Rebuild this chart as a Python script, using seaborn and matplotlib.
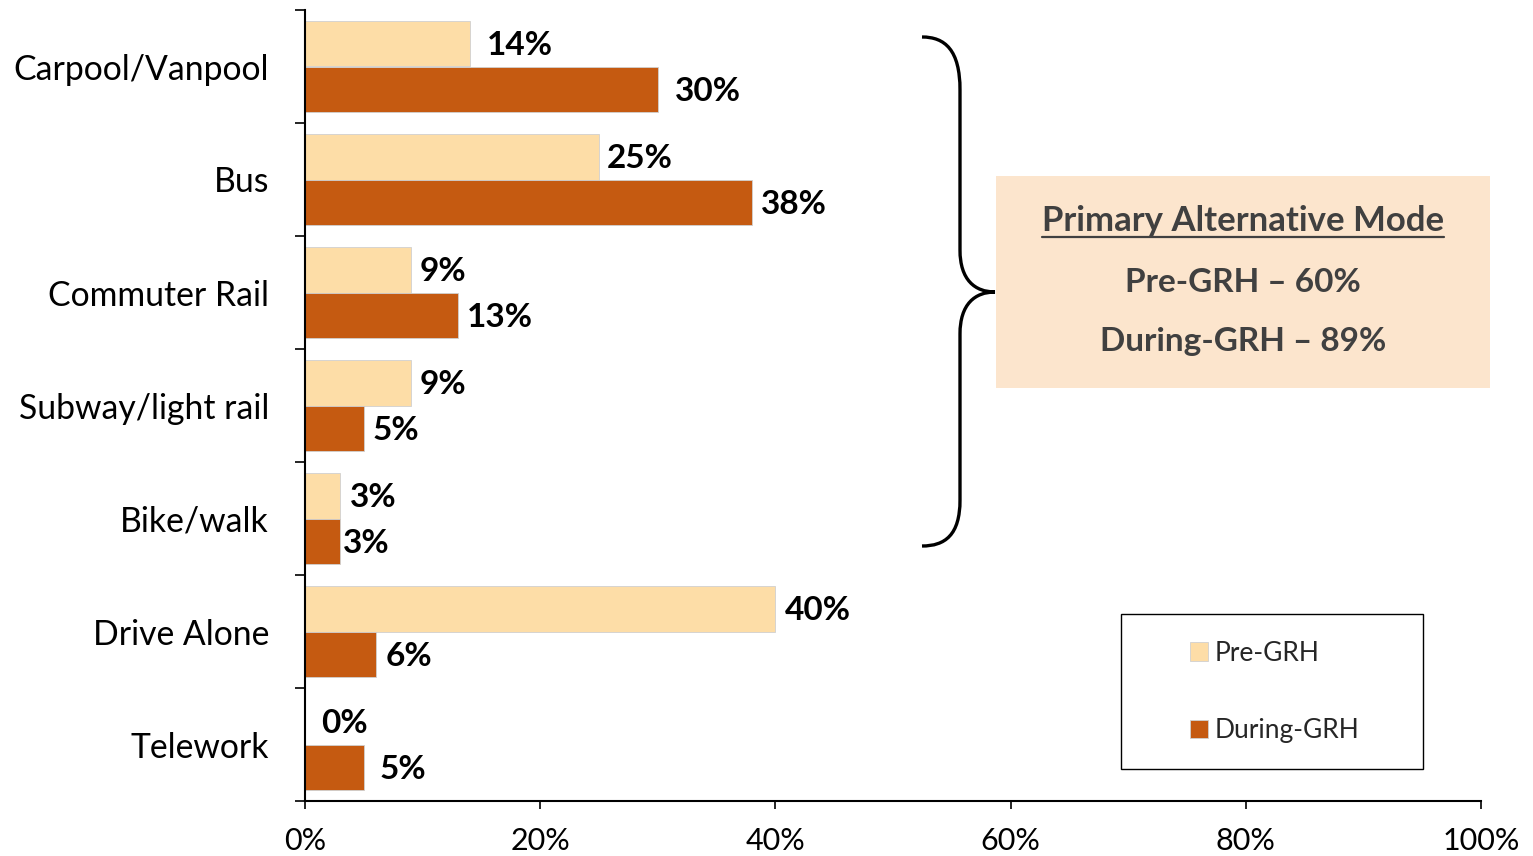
import matplotlib
matplotlib.use("Agg")
import matplotlib.pyplot as plt
import matplotlib.patches as mpatches
from matplotlib.path import Path
from matplotlib.lines import Line2D
import seaborn as sns
import pandas as pd

# ---- data ----
modes = ["Carpool/Vanpool", "Bus", "Commuter Rail", "Subway/light rail",
         "Bike/walk", "Drive Alone", "Telework"]
pre_grh = [14, 25, 9, 9, 3, 40, 0]
during_grh = [30, 38, 13, 5, 3, 6, 5]
series_names = ["Pre-GRH", "During-GRH"]
x_ticks = [0, 20, 40, 60, 80, 100]
box_title = "Primary Alternative Mode"
box_lines = ["Pre-GRH \u2013 60%", "During-GRH \u2013 89%"]

# label offsets (pixels) from bar end
pre_pad_px = [17, 8, 9, 9, 10, 9, 16]
during_pad_px = [17, 9, 9, 9, 3, 10, 16]

PRE_COLOR = "#FDDDA7"
DURING_COLOR = "#C55A11"

sns.set_theme(style="ticks")
plt.rcParams["font.family"] = ["Lato", "DejaVu Sans"]

W, H = 1533, 856
fig = plt.figure(figsize=(W / 100, H / 100), dpi=100)
ax = fig.add_axes([305 / W, 1 - 801 / H, (1481 - 305) / W, (801 - 10) / H])

df = pd.DataFrame({
    "mode": modes * 2,
    "value": pre_grh + during_grh,
    "period": [series_names[0]] * len(modes) + [series_names[1]] * len(modes),
})

sns.barplot(data=df, y="mode", x="value", hue="period", orient="h",
            palette=[PRE_COLOR, DURING_COLOR], saturation=1, width=0.8,
            edgecolor="#D0D0D0", linewidth=0.6, legend=False, ax=ax)

ax.set_xlim(0, 100)
ax.set_ylim(len(modes) - 0.5, -0.5)
ax.set_xticks(x_ticks)
ax.set_xticklabels([f"{t}%" for t in x_ticks], fontsize=22, color="black")
ax.tick_params(axis="x", length=6, width=1.2, color="black", pad=13)
ax.set_yticks(range(len(modes)))
ax.set_yticklabels(modes, fontsize=24.3, color="black")
ax.tick_params(axis="y", which="major", length=0, pad=26)
ax.set_yticks([i - 0.5 for i in range(len(modes) + 1)], minor=True)
ax.tick_params(axis="y", which="minor", length=7, width=1.2, color="black")
ax.set_xlabel("")
ax.set_ylabel("")
for s in ["top", "right"]:
    ax.spines[s].set_visible(False)
for s in ["left", "bottom"]:
    ax.spines[s].set_color("black")
    ax.spines[s].set_linewidth(1.5)

# data labels
for cont, pads, vals in zip(ax.containers, [pre_pad_px, during_pad_px], [pre_grh, during_grh]):
    for patch, pad, v in zip(cont.patches, pads, vals):
        y = patch.get_y() + patch.get_height() / 2
        ax.annotate(f"{v}%", xy=(patch.get_width(), y), xytext=(pad * 0.72, -1.5),
                    textcoords="offset points", va="center", ha="left",
                    fontsize=24, fontweight="bold", color="black")

# helper for pixel -> figure fraction
def fx(x):
    return x / W

def fy(y):
    return 1 - y / H

# curly brace
pts = [(922, 37), (945, 37), (960, 50), (960, 90),
       (960, 250),
       (960, 280), (975, 292), (995, 292),
       (975, 292), (960, 304), (960, 334),
       (960, 500),
       (960, 535), (945, 546), (922, 546)]
codes = [Path.MOVETO, Path.CURVE4, Path.CURVE4, Path.CURVE4,
         Path.LINETO,
         Path.CURVE4, Path.CURVE4, Path.CURVE4,
         Path.CURVE4, Path.CURVE4, Path.CURVE4,
         Path.LINETO,
         Path.CURVE4, Path.CURVE4, Path.CURVE4]
brace = Path([(fx(x), fy(y)) for x, y in pts], codes)
fig.patches.append(mpatches.PathPatch(brace, transform=fig.transFigure,
                                      facecolor="none", edgecolor="black",
                                      linewidth=2.4))

# summary box
box = mpatches.Rectangle((fx(996), fy(388)), fx(1490) - fx(996), fy(176) - fy(388),
                         transform=fig.transFigure, facecolor="#FCE5CD",
                         edgecolor="none")
fig.patches.append(box)
cx = fx(1243)
title = fig.text(cx, fy(231), box_title, ha="center", va="baseline",
                 fontsize=25, fontweight="bold", color="#404040")
fig.text(cx, fy(282), box_lines[0], ha="center", va="center",
         fontsize=24, fontweight="bold", color="#404040")
fig.text(cx, fy(342), box_lines[1], ha="center", va="center",
         fontsize=24, fontweight="bold", color="#404040")

# legend
handles = [mpatches.Patch(facecolor=PRE_COLOR, edgecolor="#D0D0D0", linewidth=0.6),
           mpatches.Patch(facecolor=DURING_COLOR, edgecolor="#D0D0D0", linewidth=0.6)]
leg = fig.legend(handles, series_names, loc="center left",
                 bbox_to_anchor=(fx(1190), fy(692)), bbox_transform=fig.transFigure,
                 frameon=False, fontsize=19, borderpad=0, borderaxespad=0,
                 handlelength=0.7, handleheight=0.7, handletextpad=0.25,
                 labelspacing=2.0)
frame = mpatches.Rectangle((fx(1121), fy(769)), fx(1423) - fx(1121), fy(614) - fy(769),
                           transform=fig.transFigure, facecolor="none",
                           edgecolor="black", linewidth=1.0)
fig.patches.append(frame)

# underline for the title
fig.canvas.draw()
bb = title.get_window_extent(fig.canvas.get_renderer())
uy = fy(236.5)
fig.add_artist(Line2D([bb.x0 / W, bb.x1 / W], [uy, uy], transform=fig.transFigure,
                      color="#404040", linewidth=1.6))

fig.savefig("out.png", dpi=100)
